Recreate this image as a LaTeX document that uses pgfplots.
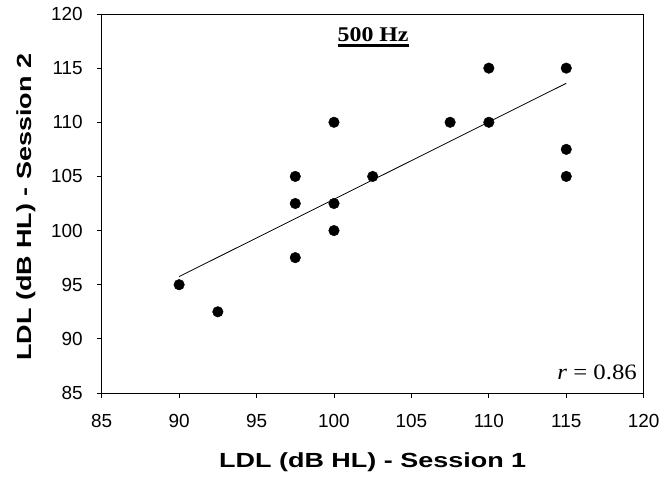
\documentclass[border=0pt]{standalone}
\usepackage{fontspec}
\setmainfont{Liberation Sans}
\newfontfamily\timesfont{Liberation Serif}
\usepackage{pgfplots}
\pgfplotsset{compat=1.18}
\begin{document}
\begin{tikzpicture}
\useasboundingbox (0,0) rectangle (664bp,482bp);
\begin{axis}[
  at={(101.7bp,89bp)}, anchor=south west,
  scale only axis, width=542bp, height=379bp,
  xmin=85, xmax=120, ymin=85, ymax=120,
  xtick={85,90,...,120}, ytick={85,90,...,120},
  axis line style={black, line width=0.8bp},
  tick align=outside, tick pos=left,
  major tick length=5bp,
  tick style={black, line width=0.8bp},
  /pgf/number format/assume math mode=true,
  ticklabel style={font=\fontsize{19}{21}\selectfont},
  xticklabel style={yshift=-13bp},
  yticklabel style={xshift=-10.5bp},
  xlabel={\scalebox{1.32}[1]{\bfseries LDL (dB HL) - Session 1}},
  ylabel={\scalebox{1.32}[1]{\bfseries LDL (dB HL) - Session 2}},
  label style={font=\fontsize{20.5}{23}\selectfont},
  xlabel style={at={(axis description cs:0.5,-0.1971)}, anchor=base},
  ylabel style={at={(axis description cs:-0.1304,0.49)}, anchor=base},
  clip=false,
]
\addplot[only marks, mark=*, mark size=5.3bp, black] coordinates {
(90,95) (92.5,92.5) (97.5,97.5) (97.5,102.5) (97.5,105)
(100,110) (100,102.5) (100,100) (102.5,105) (107.5,110)
(110,115) (110,110) (115,115) (115,107.5) (115,105)
};
\addplot[black, line width=0.8bp, no marks] coordinates {(90,95.75) (115,113.6)};
\node[font=\timesfont\bfseries\fontsize{21}{23}\selectfont, anchor=base, inner sep=0pt] at (axis cs:102.53,117.42) {\scalebox{1.14}[1]{\setbox0\hbox{500 Hz}\rlap{\raisebox{-5.3bp}{\rule{\wd0}{3bp}}}\box0}};
\node[font=\timesfont\fontsize{22}{24}\selectfont, anchor=base east, inner sep=0pt] at (axis cs:119.57,86.29) {\scalebox{1.13}[1]{\textit{r} = 0.86}};
\end{axis}
\end{tikzpicture}
\end{document}
